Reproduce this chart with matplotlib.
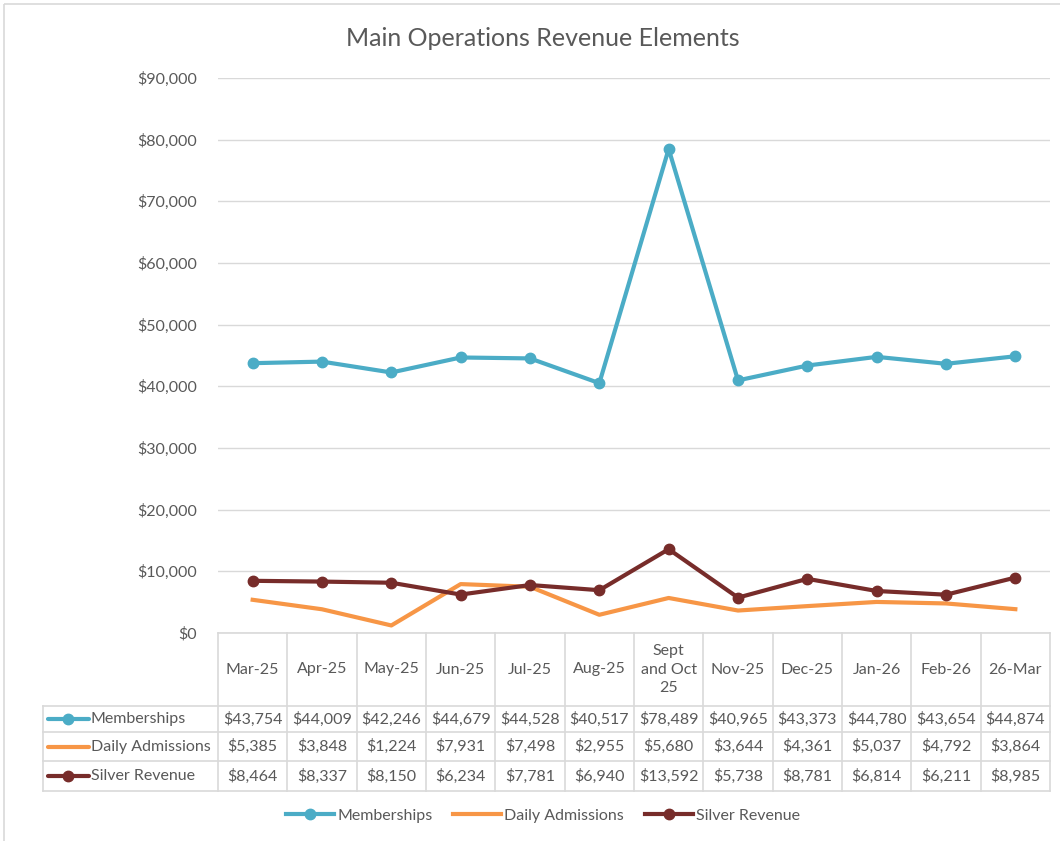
import matplotlib
matplotlib.use("Agg")
import matplotlib.pyplot as plt
from matplotlib.lines import Line2D
from matplotlib.patches import Rectangle
from matplotlib.ticker import FuncFormatter

# ── Data ───────────────────────────────────────────────────────────────
MONTHS = ["Mar-25", "Apr-25", "May-25", "Jun-25", "Jul-25", "Aug-25",
          "Sept\nand Oct\n25", "Nov-25", "Dec-25", "Jan-26", "Feb-26", "26-Mar"]
MEMBERSHIPS = [43754, 44009, 42246, 44679, 44528, 40517,
               78489, 40965, 43373, 44780, 43654, 44874]
DAILY_ADMISSIONS = [5385, 3848, 1224, 7931, 7498, 2955,
                    5680, 3644, 4361, 5037, 4792, 3864]
SILVER_REVENUE = [8464, 8337, 8150, 6234, 7781, 6940,
                  13592, 5738, 8781, 6814, 6211, 8985]
SERIES_NAMES = ["Memberships", "Daily Admissions", "Silver Revenue"]
Y_TICKS = list(range(0, 90001, 10000))

# ── Style ──────────────────────────────────────────────────────────────
C_MEM = "#4BACC6"
C_DAY = "#F79646"
C_SIL = "#772C2A"
TXT = "#595959"
GRID = "#D9D9D9"
LW = 3.0
MS = 7.5
plt.rcParams["font.family"] = ["Lato", "DejaVu Sans"]

W, H = 1060, 841
fig = plt.figure(figsize=(W / 100, H / 100), dpi=100)

# pixel-space overlay for border + data table
ov = fig.add_axes([0, 0, 1, 1])
ov.set_xlim(0, W)
ov.set_ylim(H, 0)
ov.axis("off")
ov.add_patch(Rectangle((4, 4), W + 10, H + 10, fill=False, ec=GRID, lw=1.2))

# plot area in pixels
PX0, PX1, PY0, PY1 = 218, 1050, 78, 633
ax = fig.add_axes([PX0 / W, 1 - PY1 / H, (PX1 - PX0) / W, (PY1 - PY0) / H])
x = list(range(len(MONTHS)))
ax.plot(x, MEMBERSHIPS, color=C_MEM, lw=LW, marker="o", ms=MS,
        label=SERIES_NAMES[0], zorder=3)
ax.plot(x, DAILY_ADMISSIONS, color=C_DAY, lw=LW,
        label=SERIES_NAMES[1], zorder=3)
ax.plot(x, SILVER_REVENUE, color=C_SIL, lw=LW, marker="o", ms=MS,
        label=SERIES_NAMES[2], zorder=4)
ax.set_xlim(-0.5, len(MONTHS) - 0.5)
ax.set_ylim(0, 90000)
ax.set_yticks(Y_TICKS)
ax.yaxis.set_major_formatter(FuncFormatter(lambda v, p: f"${v:,.0f}"))
ax.tick_params(axis="y", length=0, pad=15, labelsize=11.5, labelcolor=TXT)
ax.set_xticks([])
ax.grid(axis="y", color=GRID, lw=1)
ax.set_axisbelow(True)
for s in ["top", "right", "left", "bottom"]:
    ax.spines[s].set_visible(False)
ax.set_facecolor("none")

fig.text(543 / W, 1 - 38 / H, "Main Operations Revenue Elements",
         ha="center", va="center", fontsize=18, color=TXT)

# ── Data table ─────────────────────────────────────────────────────────
TL = 43
ROWS = [633, 706, 732, 761, 791]
ncol = len(MONTHS)
cw = (PX1 - PX0) / ncol
lc = dict(color=GRID, lw=1.2)
ov.plot([PX0, PX1], [ROWS[0], ROWS[0]], **lc)
for yy in ROWS[1:]:
    ov.plot([TL, PX1], [yy, yy], **lc)
ov.plot([TL, TL], [ROWS[1], ROWS[-1]], **lc)
for i in range(ncol + 1):
    xx = PX0 + i * cw
    ov.plot([xx, xx], [ROWS[0], ROWS[-1]], **lc)

for i, m in enumerate(MONTHS):
    ov.text(PX0 + (i + 0.5) * cw, (ROWS[0] + ROWS[1]) / 2, m, ha="center",
            va="center", fontsize=11.5, color=TXT, linespacing=1.45)

table_series = [(MEMBERSHIPS, C_MEM, "o"), (DAILY_ADMISSIONS, C_DAY, None),
                (SILVER_REVENUE, C_SIL, "o")]
for r, (vals, col, mk) in enumerate(table_series):
    yc = (ROWS[r + 1] + ROWS[r + 2]) / 2
    ov.plot([48, 89], [yc, yc], color=col, lw=LW, solid_capstyle="round")
    if mk:
        ov.plot([68], [yc], marker=mk, color=col, ms=MS)
    ov.text(91, yc, SERIES_NAMES[r], ha="left", va="center", fontsize=11.5,
            color=TXT)
    for i, v in enumerate(vals):
        ov.text(PX0 + (i + 0.5) * cw, yc, f"${v:,.0f}", ha="center",
                va="center", fontsize=11.5, color=TXT)

# ── Legend ─────────────────────────────────────────────────────────────
handles = [Line2D([], [], color=C_MEM, lw=LW, marker="o", ms=MS),
           Line2D([], [], color=C_DAY, lw=LW),
           Line2D([], [], color=C_SIL, lw=LW, marker="o", ms=MS)]
fig.legend(handles, SERIES_NAMES, loc="center", ncol=3,
           bbox_to_anchor=(543 / W, 1 - 816 / H), frameon=False,
           fontsize=11.5, labelcolor=TXT, handlelength=3.0, handletextpad=0.2,
           columnspacing=1.3)

fig.savefig("out.png", dpi=100)
